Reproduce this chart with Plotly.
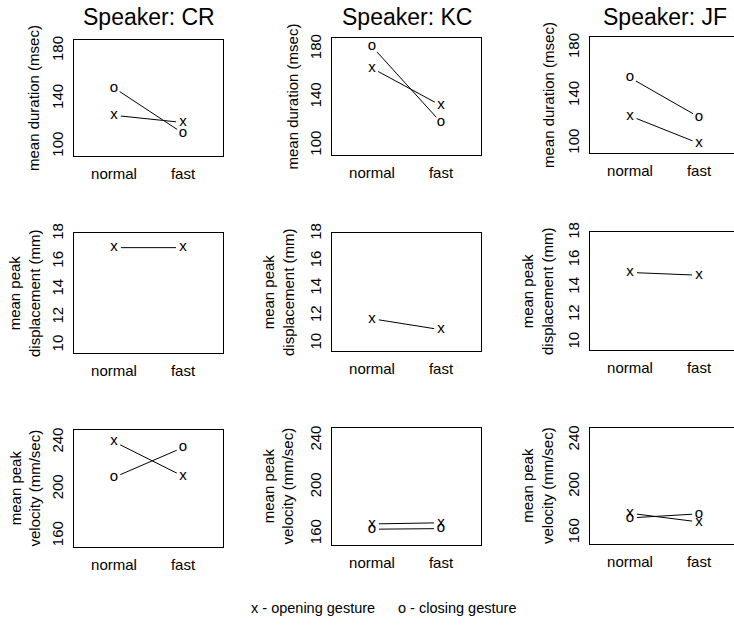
import plotly.graph_objects as go

W, H = 734, 625

# ---------------- data ----------------
speakers = ["CR", "KC", "JF"]
conditions = ["normal", "fast"]
cond_pos = [1, 2]

duration_opening = {"CR": [126, 120], "KC": [164, 133], "JF": [123, 100]}
duration_closing = {"CR": [149, 111], "KC": [182, 119], "JF": [155, 122]}

displacement_opening = {"CR": [17.0, 17.0], "KC": [11.8, 11.0], "JF": [15.1, 14.9]}

velocity_opening = {"CR": [240.5, 211.0], "KC": [168.5, 169.5], "JF": [177.0, 169.5]}
velocity_closing = {"CR": [210.0, 235.5], "KC": [164.0, 164.5], "JF": [173.0, 176.5]}

duration_ticks = [100, 140, 180]
displacement_ticks = [10, 12, 14, 16, 18]
velocity_ticks = [160, 200, 240]

row_titles = ["mean duration (msec)",
              "mean peak<br>displacement (mm)",
              "mean peak<br>velocity (mm/sec)"]
legend_texts = ["x - opening gesture", "o - closing gesture"]

# ---------------- layout geometry (screen pixels) ----------------
col_left = [74, 332, 590]
col_right = [223, 481, 734]
box_tb = [
    [(40, 156), (38, 155), (37, 153)],
    [(233, 353), (233, 351), (232, 350)],
    [(430, 547), (428, 545), (428, 544)],
]
y_ranges = [[92, 189], [9.45, 18.05], [150.5, 250.5]]
y_ticks = [duration_ticks, displacement_ticks, velocity_ticks]
title_x_off = [[41, 40, 42], [50, 54, 53], [49, 54, 53]]
px_per_unit = (223 - 74) / 2.16

FONT = "Liberation Sans, Arial, Helvetica, sans-serif"


def px(x):
    return x / W


def py(y):
    return 1 - y / H


rows = [
    [(duration_opening, "x"), (duration_closing, "o")],
    [(displacement_opening, "x")],
    [(velocity_opening, "x"), (velocity_closing, "o")],
]

fig = go.Figure()
layout = dict(
    template="none",
    width=W, height=H, margin=dict(l=0, r=0, t=0, b=0, autoexpand=False),
    paper_bgcolor="white", plot_bgcolor="white", showlegend=False,
    font=dict(family=FONT, color="black", size=15),
)
annotations = []

k = 0
for r in range(3):
    for c, spk in enumerate(speakers):
        k += 1
        sfx = "" if k == 1 else str(k)
        xa, ya = "x" + sfx, "y" + sfx
        top, bot = box_tb[r][c]
        x0, x1 = col_left[c], col_right[c]
        xr_end = 0.42 + (x1 - x0) / px_per_unit
        layout["xaxis" + sfx] = dict(
            domain=[px(x0), px(x1)], range=[0.42, xr_end], anchor=ya,
            tickvals=cond_pos, ticktext=conditions, ticks="", showgrid=False,
            zeroline=False, showline=True, linecolor="black", linewidth=1.3,
            mirror=True, ticklabelstandoff=4, tickfont=dict(size=15),
            fixedrange=True, automargin=False,
        )
        layout["yaxis" + sfx] = dict(
            domain=[py(bot), py(top)], range=y_ranges[r], anchor=xa,
            tickvals=y_ticks[r], ticks="", showgrid=False, zeroline=False,
            showline=True, linecolor="black", linewidth=1.3,
            mirror=(c < 2), tickangle=-90, ticklabelstandoff=4,
            tickfont=dict(size=15), fixedrange=True, automargin=False,
        )
        series = rows[r]
        for data, sym in series:
            fig.add_trace(go.Scatter(x=cond_pos, y=data[spk], mode="lines",
                                     line=dict(color="black", width=1),
                                     xaxis=xa, yaxis=ya, hoverinfo="skip"))
        for data, sym in series:
            fig.add_trace(go.Scatter(x=cond_pos, y=data[spk], mode="markers",
                                     marker=dict(color="white", size=14, line=dict(width=0)),
                                     xaxis=xa, yaxis=ya, hoverinfo="skip"))
        for data, sym in series:
            fig.add_trace(go.Scatter(x=cond_pos, y=data[spk], mode="text",
                                     text=[sym, sym], textposition="middle center",
                                     textfont=dict(size=15, color="black", family=FONT),
                                     xaxis=xa, yaxis=ya, hoverinfo="skip"))
        annotations.append(dict(
            text=row_titles[r], textangle=-90, xref="paper", yref="paper",
            x=px(x0 - title_x_off[r][c]), y=py((top + bot) / 2),
            xanchor="center", yanchor="middle", showarrow=False,
            font=dict(size=15, family=FONT, color="black"),
        ))
        if r == 0:
            annotations.append(dict(
                text="Speaker: " + spk, xref="paper", yref="paper",
                x=px(x0 + 74.5), y=py(17), xanchor="center", yanchor="middle",
                showarrow=False, font=dict(size=23, family=FONT, color="black"),
            ))

legend_x = [313, 457]
for t, lx in zip(legend_texts, legend_x):
    annotations.append(dict(
        text=t, xref="paper", yref="paper", x=px(lx), y=py(608),
        xanchor="center", yanchor="middle", showarrow=False,
        font=dict(size=14.5, family=FONT, color="black"),
    ))

layout["annotations"] = annotations
fig.update_layout(**layout)
fig.write_html("out.html",
               config={"displayModeBar": False, "staticPlot": True},
               post_script="document.body.style.margin='0';document.body.style.overflow='hidden';")
